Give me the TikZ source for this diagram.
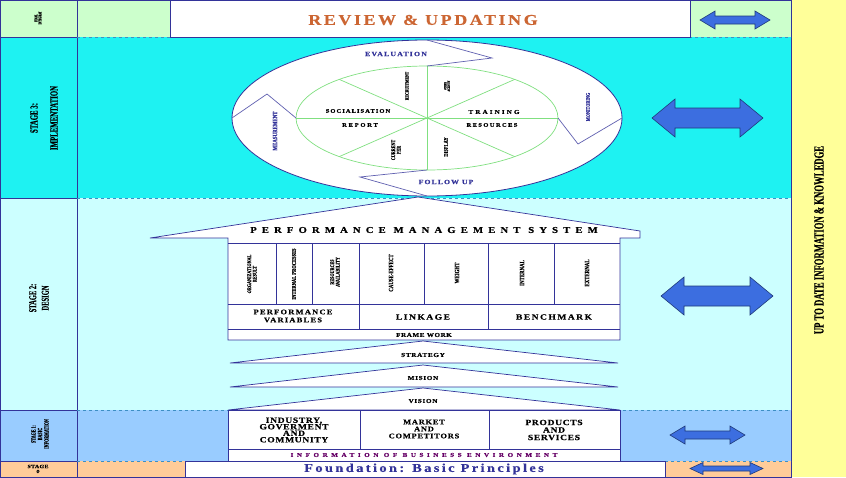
\documentclass[tikz,border=0pt]{standalone}
\usepackage{fontspec}
\setmainfont{Liberation Serif}
\newfontfamily\lser[FakeStretch=1.2,FakeBold=0.4]{Liberation Serif}
\newfontfamily\cond[FakeStretch=0.62,FakeBold=0.3]{Liberation Serif}
\newfontfamily\condw[FakeStretch=0.75,FakeBold=0.4]{Liberation Serif}
\usetikzlibrary{shapes.geometric}
\definecolor{yel}{HTML}{FFFF99}
\definecolor{grn}{HTML}{CCFFCC}
\definecolor{cyn}{HTML}{1EF2F2}
\definecolor{lcy}{HTML}{CCFFFF}
\definecolor{lblue}{HTML}{99CCFF}
\definecolor{pch}{HTML}{FFCC99}
\definecolor{fr}{HTML}{333399}
\definecolor{dsh}{HTML}{3D8FC4}
\definecolor{arrf}{HTML}{3C6EE0}
\definecolor{arro}{HTML}{1F3A7A}
\definecolor{orng}{HTML}{CC6633}
\definecolor{chev}{HTML}{6060B0}
\definecolor{gline}{HTML}{80E080}
\definecolor{purp}{HTML}{660066}
\newcommand{\dbar}[7]{%
 \draw[arr] (#2-#4,#3) -- (#2-#4+#5,#3-#6) -- (#2-#4+#5,#3-#7) -- (#2+#4-#5,#3-#7) -- (#2+#4-#5,#3-#6) -- (#2+#4,#3) -- (#2+#4-#5,#3+#6) -- (#2+#4-#5,#3+#7) -- (#2-#4+#5,#3+#7) -- (#2-#4+#5,#3+#6) -- cycle;}
\newcommand{\sfnt}[2]{\lser\bfseries\fontsize{#1}{#1}\selectfont\addfontfeature{LetterSpace=#2}}
\newcommand{\cfnt}[1]{\cond\bfseries\fontsize{#1}{#1}\selectfont}
\newcommand{\wfnt}[1]{\condw\bfseries\fontsize{#1}{#1}\selectfont}
\begin{document}
\begin{tikzpicture}[x=1pt,y=-1pt,
  frame/.style={draw=fr,line width=0.8pt},
  sepline/.style={draw=dsh,dashed,line width=0.6pt},
  arr/.style={fill=arrf,draw=arro,line width=0.6pt,line join=miter},
  box/.style={draw=fr,line width=0.7pt,fill=white},
  chevl/.style={draw=chev,line width=0.7pt},
  gl/.style={draw=gline,line width=0.7pt},
  txt/.style={inner sep=0pt,align=center},
  rot/.style={txt,rotate=90},
  blue text/.style={text=fr}]
\useasboundingbox (0,0) rectangle (846,477);
% backgrounds
\fill[yel] (791,0) rectangle (846,477);
\fill[grn] (0,0) rectangle (791,37);
\fill[cyn] (0,37) rectangle (791,198);
\fill[lcy] (0,198) rectangle (791,410);
\fill[lblue] (0,410) rectangle (791,461);
\fill[pch] (0,461) rectangle (791,477);
% frame lines
\draw[frame] (0,0) rectangle (791,477);
\draw[frame] (77,0) -- (77,477);
\draw[frame] (0,37) -- (77,37) (0,198) -- (77,198) (0,410) -- (77,410) (0,461) -- (77,461);
\draw[sepline] (77,37) -- (791,37) (77,198) -- (791,198) (77,410) -- (791,410) (77,461) -- (791,461);
\draw[frame] (170,0) -- (170,37) (690,0) -- (690,37);
\draw[box] (170,0) rectangle (690,37);
\draw[box] (185,461) rectangle (665,477);
% top band
\node[txt,text=orng,font=\sfnt{15}{17}] (review) at (423,20) {REVIEW \& UPDATING};
\node[rot,font=\cfnt{4}] (final) at (38,18) {FINAL\\INTEGRAT};
% left stage labels
\node[rot,font=\cfnt{11}] (s3) at (44,118) {STAGE 3:\\[9pt]IMPLEMENTATION};
\node[rot,font=\cfnt{10.5}] (s2) at (39,298) {STAGE 2:\\[2pt]DESIGN};
\node[rot,font=\cfnt{6.5}] (s1) at (40,434) {STAGE 1:\\BASIC\\INFORMATION};
\node[txt,font=\sfnt{5}{5}] (s0) at (38,469) {STAGE\\0};
\node[rot,font=\cfnt{14}] (uptodate) at (819,240) {UP TO DATE INFORMATION \& KNOWLEDGE};
% arrows
\dbar{a0}{735}{20}{35}{15}{9}{4}
\dbar{a3}{707.5}{118}{55.5}{23}{19}{10}
\dbar{a2}{717}{296}{56}{23}{19}{10}
\dbar{a1}{707.5}{435}{37.5}{15}{9}{4}
\dbar{a4}{726.5}{468.5}{36.5}{13}{6}{2.5}
% stage 3 cycle
\node[ellipse,draw=fr,line width=0.8pt,fill=white,minimum width=390pt,minimum height=156pt,inner sep=0pt,outer sep=0pt] (outer) at (427,118) {};
\node[ellipse,gl,minimum width=262pt,minimum height=104pt,inner sep=0pt,outer sep=0pt] (inner) at (427,118) {};
\draw[gl] (inner.west) -- (inner.east) (inner.north) -- (inner.south);
\draw[gl] (inner.center) -- ++(87.7,-38.6) (inner.center) -- ++(-87.7,-38.6)
          (inner.center) -- ++(87.7,38.6) (inner.center) -- ++(-87.7,38.6);
\coordinate (vl) at (267,94);
\coordinate (vt) at (492,58);
\coordinate (vr) at (578,144);
\coordinate (vb) at (360,177);
\draw[chevl] (outer.west) -- (vl) -- (inner.west);
\draw[chevl] (outer.north) -- (vt) -- (inner.north);
\draw[chevl] (inner.east) -- (vr) -- (outer.east);
\draw[chevl] (inner.south) -- (vb) -- (outer.south);
\node[txt,blue text,font=\sfnt{6.5}{18}] (eval) at (396,54) {EVALUATION};
\node[txt,blue text,font=\sfnt{6.5}{16}] (follow) at (446,182) {FOLLOW UP};
\node[rot,blue text,font=\wfnt{6.5}] (meas) at (275,131) {MEASUREMENT};
\node[rot,blue text,font=\wfnt{5.5}] (moni) at (588,107) {MONITORING};
\node[txt,font=\sfnt{5.5}{18}] (soc) at (358,111) {SOCIALISATION};
\node[txt,font=\sfnt{5.5}{31}] (rep) at (360,125) {REPORT};
\node[txt,font=\sfnt{6}{34}] (train) at (494,112) {TRAINING};
\node[txt,font=\sfnt{5.5}{24}] (reso) at (492,125) {RESOURCES};
\node[rot,font=\wfnt{5}] (recr) at (407,86) {RECRUITMENT};
\node[rot,font=\cfnt{3.5}] (other) at (447,86) {OTHER\\ACTIVITY};
\node[rot,font=\wfnt{5.5}] (curr) at (396,150) {CURRENT\\PER};
\node[rot,font=\wfnt{6}] (disp) at (446,147) {DISPLAY};
% stage 2: PMS arrow
\draw[box] (150,238) -- (418,197) -- (640,231) -- (640,238) -- (620,238) -- (620,340) -- (228,340) -- (228,238) -- cycle;
\node[txt,font=\sfnt{9}{56}] (pms) at (424,230) {PERFORMANCE MANAGEMENT SYSTEM};
\draw[frame,line width=0.7pt] (228,243) -- (620,243) (228,304) -- (620,304) (228,329) -- (620,329);
\foreach \xx in {276,312,424,488,554} \draw[frame,line width=0.7pt] (\xx,243) -- (\xx,304);
\draw[frame,line width=0.7pt] (359,243) -- (359,329) (488,304) -- (488,329);
\node[rot,font=\wfnt{5.5}] (c1) at (252,274) {ORGANIZATIONAL\\RESULT};
\node[rot,font=\wfnt{6}] (c2) at (294,274) {INTERNAL PROCESSES};
\node[rot,font=\wfnt{5.5}] (c3) at (335,272) {RESOURCES\\AVAILABILITY};
\node[rot,font=\wfnt{6.5}] (c4) at (391,273) {CAUSE-EFFECT};
\node[rot,font=\wfnt{6.5}] (c5) at (457,273) {WEIGHT};
\node[rot,font=\wfnt{6.5}] (c6) at (522,273) {INTERNAL};
\node[rot,font=\wfnt{6.5}] (c7) at (587,273) {EXTERNAL};
\node[txt,font=\sfnt{7}{18}] (pv) at (293,316) {PERFORMANCE\\[1pt]VARIABLES};
\node[txt,font=\sfnt{8}{18}] (link) at (423,317) {LINKAGE};
\node[txt,font=\sfnt{8}{18}] (bench) at (554,317) {BENCHMARK};
\node[txt,font=\sfnt{6}{8}] (fw) at (424,335) {FRAME WORK};
% triangles
\draw[box] (230,363) -- (423,341) -- (618,363) -- cycle;
\draw[box] (230,387) -- (423,365) -- (618,387) -- cycle;
\draw[box] (228,410) -- (423,388) -- (620,410) -- cycle;
\node[txt,font=\sfnt{6}{11}] (strat) at (423,355) {STRATEGY};
\node[txt,font=\sfnt{6}{11}] (mis) at (423,378) {MISION};
\node[txt,font=\sfnt{6}{11}] (vis) at (423,401) {VISION};
% stage 1 boxes
\draw[box] (228,410) rectangle (620,461);
\draw[frame,line width=0.7pt] (228,449) -- (620,449) (360,410) -- (360,449) (489,410) -- (489,449);
\node[txt,font=\sfnt{8}{8}] (ind) at (294,430) {INDUSTRY,\\[-1.5pt]GOVERMENT\\[-1.5pt]AND\\[-1.5pt]COMMUNITY};
\node[txt,font=\sfnt{7}{11}] (mkt) at (424,429) {MARKET\\AND\\COMPETITORS};
\node[txt,font=\sfnt{8}{8}] (prod) at (554,430) {PRODUCTS\\[-0.5pt]AND\\[-0.5pt]SERVICES};
\node[txt,text=purp,font=\sfnt{6}{58}] (info) at (424,455) {INFORMATION OF BUSINESS ENVIRONMENT};
\node[txt,blue text,font=\sfnt{12}{20}] (found) at (424,469) {Foundation: Basic Principles};
\end{tikzpicture}
\end{document}
